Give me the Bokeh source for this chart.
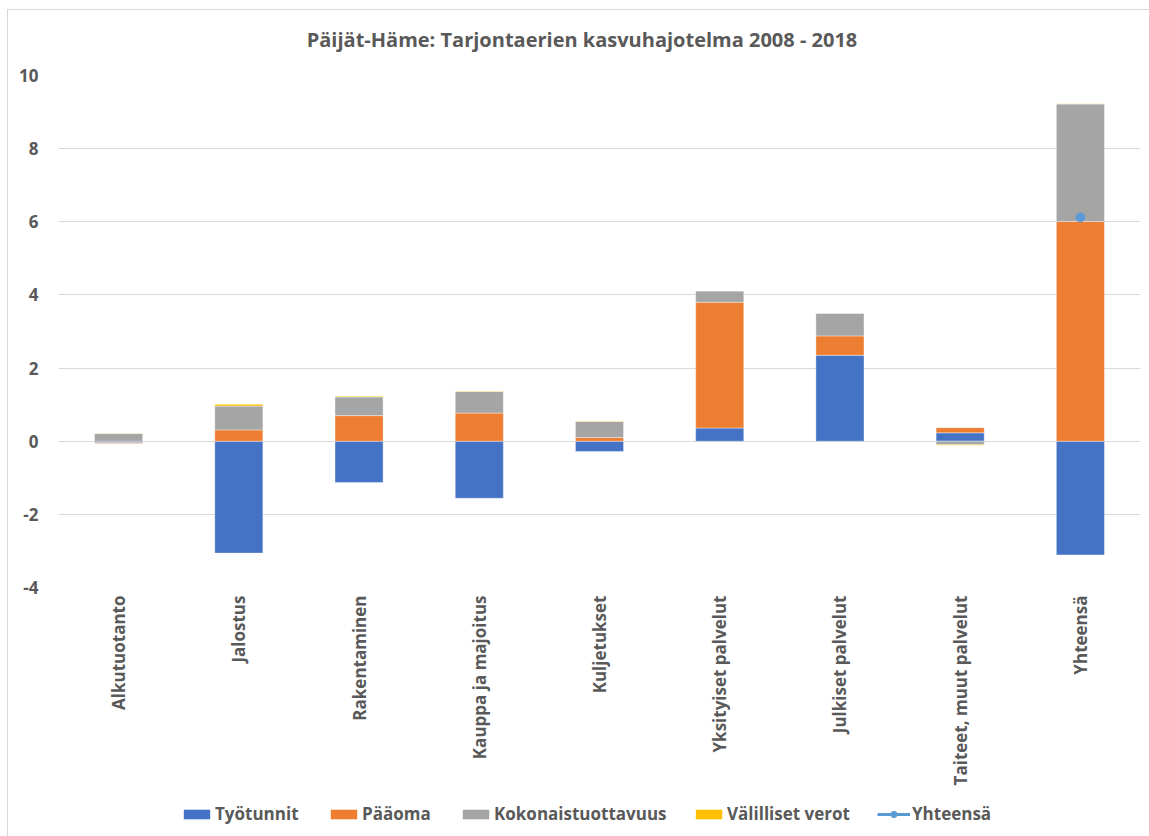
import math
import numpy as np
from bokeh.plotting import figure
from bokeh.layouts import column
from bokeh.models import (FactorRange, Range1d, Legend, LegendItem, Label,
                          FixedTicker, ColumnDataSource)
from bokeh.embed import file_html
from bokeh.resources import INLINE

# ---------------- data ----------------
categories = ["Alkutuotanto", "Jalostus", "Rakentaminen", "Kauppa ja majoitus",
              "Kuljetukset", "Yksityiset palvelut", "Julkiset palvelut",
              "Taiteet, muut palvelut", "Yhteensä"]
tyotunnit = [-0.04, -3.06, -1.13, -1.56, -0.28, 0.36, 2.35, 0.23, -3.11]
paaoma = [-0.02, 0.31, 0.70, 0.77, 0.10, 3.44, 0.53, 0.14, 6.01]
kokonaistuottavuus = [0.21, 0.65, 0.51, 0.59, 0.44, 0.31, 0.62, -0.10, 3.21]
valilliset_verot = [0.01, 0.05, 0.02, 0.01, 0.01, 0.00, 0.00, -0.01, 0.01]
yhteensa = [np.nan, np.nan, np.nan, np.nan, np.nan, np.nan, np.nan, np.nan, 6.12]
y_ticks = [-4, -2, 0, 2, 4, 6, 8, 10]
y_tick_labels = ["-4", "-2", "0", "2", "4", "6", "8", "10"]

series_names = ["Työtunnit", "Pääoma", "Kokonaistuottavuus", "Välilliset verot"]
series_vals = [tyotunnit, paaoma, kokonaistuottavuus, valilliset_verot]
series_colors = ["#4472C4", "#ED7D31", "#A5A5A5", "#FFC000"]
total_name = "Yhteensä"
line_color = "#5B9BD5"
title_text = "Päijät-Häme: Tarjontaerien kasvuhajotelma 2008 - 2018"

FONT = "Open Sans"
TXT = "#595959"
W = 1149
FRAME_L, FRAME_R = 58, 1140


def blank_fig(h):
    # frames of a column are aligned with the main chart's frame
    f = figure(width=W, height=h, x_range=Range1d(FRAME_L, FRAME_R),
               y_range=Range1d(0, h),
               output_backend="svg", toolbar_location=None,
               x_axis_location=None, y_axis_location=None,
               min_border=0, min_border_left=FRAME_L,
               min_border_right=W - FRAME_R,
               min_border_top=0, min_border_bottom=0)
    f.grid.grid_line_color = None
    f.outline_line_color = None
    f.background_fill_alpha = 0
    f.border_fill_alpha = 0
    return f


# ---------------- title ----------------
top = blank_fig(60)
top.add_layout(Label(x=581.5, y=21, text=title_text, text_font=FONT,
                     text_font_style="bold", text_font_size="20px",
                     text_color=TXT, text_align="center", text_baseline="middle"))

# ---------------- main chart ----------------
p = figure(width=W, height=736, x_range=FactorRange(*categories),
           y_range=Range1d(-4, 10), output_backend="svg", toolbar_location=None,
           min_border_left=FRAME_L, min_border_right=W - FRAME_R,
           min_border_top=15, min_border_bottom=209)
p.x_range.range_padding = 0
p.outline_line_color = None
p.background_fill_alpha = 0
p.border_fill_alpha = 0

pos_base = np.zeros(len(categories))
neg_base = np.zeros(len(categories))
for name, vals, col in zip(series_names, series_vals, series_colors):
    v = np.array(vals, dtype=float)
    bottom = np.where(v >= 0, pos_base, neg_base)
    topv = bottom + v
    pos_base = np.where(v >= 0, topv, pos_base)
    neg_base = np.where(v < 0, topv, neg_base)
    p.vbar(x=categories, bottom=bottom, top=topv, width=0.4,
           fill_color=col, line_color="white", line_alpha=0.5, line_width=0.75)

p.line(x=categories, y=yhteensa, line_color=line_color, line_width=2.75)
p.scatter(x=categories, y=yhteensa, size=9, fill_color=line_color,
          line_color=line_color)

p.xgrid.grid_line_color = None
p.ygrid.grid_line_color = "#D9D9D9"
p.ygrid.grid_line_width = 1
p.yaxis.ticker = FixedTicker(ticks=y_ticks)
p.yaxis.major_label_overrides = dict(zip(y_ticks, y_tick_labels))
for ax in (p.xaxis[0], p.yaxis[0]):
    ax.axis_line_color = None
    ax.major_tick_line_color = None
    ax.minor_tick_line_color = None
    ax.major_tick_out = 0
    ax.major_tick_in = 0
    ax.minor_tick_out = 0
    ax.major_label_text_font = FONT
    ax.major_label_text_font_style = "bold"
    ax.major_label_text_color = TXT
    ax.major_label_text_font_size = "17px"
p.yaxis.major_label_standoff = 20
p.xaxis.major_label_standoff = 8
p.xaxis.major_label_orientation = math.pi / 2

# ---------------- legend ----------------
leg = blank_fig(40)
dummy = ColumnDataSource(data=dict(x=[-10000], y=[-10000], top=[-10000]))
leg_renderers = []
for col in series_colors:
    leg_renderers.append([leg.vbar(x="x", top="top", width=1, source=dummy,
                                   fill_color=col, line_color=None)])
rl = leg.line(x="x", y="y", source=dummy, line_color=line_color, line_width=3)
rs = leg.scatter(x="x", y="y", source=dummy, size=10, fill_color=line_color,
                 line_color=line_color, line_width=2)
leg_renderers.append([rl, rs])
leg_names = series_names + [total_name]
leg_x = [180, 327, 459, 692, 877]
for nm, rr, lx in zip(leg_names, leg_renderers, leg_x):
    lg = Legend(items=[LegendItem(label=nm, renderers=rr)],
                location=(lx - FRAME_L, 11),
                glyph_width=33, glyph_height=12, label_standoff=2,
                label_height=20, padding=0, margin=0, border_line_color=None,
                background_fill_alpha=0, label_text_font=FONT,
                label_text_font_style="bold", label_text_font_size="17px",
                label_text_color=TXT, label_text_baseline="middle")
    leg.add_layout(lg, "center")

layout = column(top, p, leg, spacing=0, styles={
    "background-image": "linear-gradient(#D9D9D9,#D9D9D9), linear-gradient(#D9D9D9,#D9D9D9)",
    "background-position": "7px 9px, 7px 9px",
    "background-size": "1px 100%, 100% 1px",
    "background-repeat": "no-repeat, no-repeat",
})

open("out.html", "w").write(file_html(layout, INLINE))
